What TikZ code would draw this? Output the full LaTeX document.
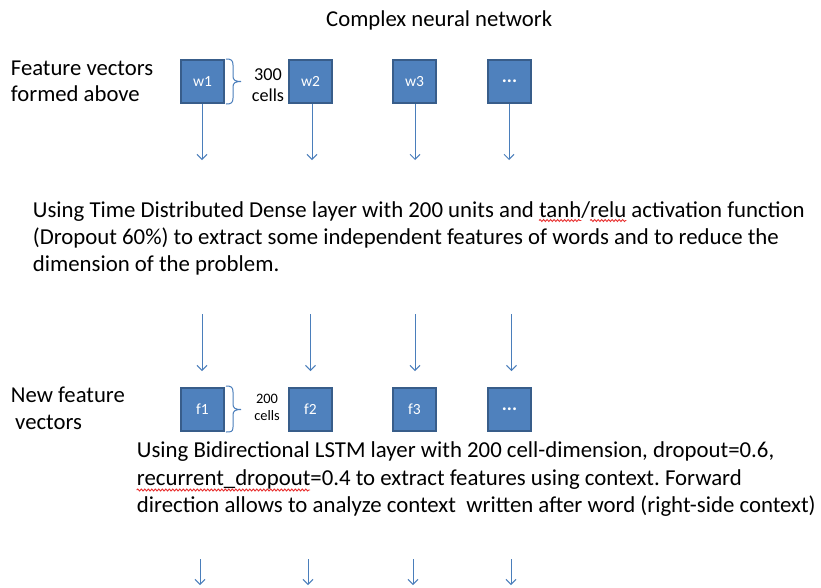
\documentclass[tikz,border=0pt]{standalone}
\usepackage{fontspec}
\setmainfont{Carlito}
\usetikzlibrary{arrows.meta,calc,decorations.pathmorphing}
\definecolor{boxfill}{HTML}{4F81BD}
\definecolor{boxline}{HTML}{385D8A}
\definecolor{arr}{HTML}{4A7EBB}
\definecolor{squig}{HTML}{E83030}
\newlength\sqtanhx
\newlength\sqtanhw
\newlength\sqrelux
\newlength\sqreluw
\newlength\sqrecw
\newcommand\parafont{\fontsize{22.8}{26}\selectfont}
\newcommand\boxdots{{\fontsize{19}{20}\selectfont\bfseries\raisebox{-2pt}{...}}}
\frenchspacing
\begin{document}
\settowidth{\sqtanhx}{\parafont Using Time Distributed Dense layer with 200 units and }%
\settowidth{\sqtanhw}{\parafont tanh}%
\settowidth{\sqrelux}{\parafont Using Time Distributed Dense layer with 200 units and tanh/}%
\settowidth{\sqreluw}{\parafont relu}%
\settowidth{\sqrecw}{\parafont recurrent\_dropout}%
\begin{tikzpicture}[x=1pt,y=-1pt,
  wbox/.style={draw=boxline,fill=boxfill,line width=2pt,minimum width=43pt,minimum height=43pt,inner sep=0pt,text=white,font=\fontsize{15.5}{17}\selectfont},
  arrowline/.style={draw=arr,line width=1pt,-{Straight Barb[length=5pt,width=10pt]}},
  bracestyle/.style={draw=arr,line width=1pt},
  sidelabel/.style={anchor=base west,inner sep=0pt,font=\fontsize{22.7}{26}\selectfont},
  para/.style={anchor=base west,inner sep=0pt,font=\parafont},
  cellsbig/.style={anchor=base,inner sep=0pt,font=\fontsize{18.2}{20}\selectfont},
  cellssmall/.style={anchor=base,inner sep=0pt,font=\fontsize{14.4}{16}\selectfont},
  squiggle/.style={draw=squig,line width=0.9pt,decorate,decoration={snake,amplitude=1pt,segment length=3.5pt}}
]
\useasboundingbox[fill=white] (0,0) rectangle (821,587);

% title
\node[sidelabel] (title) at (326,26.7) {Complex neural network};

% side labels
\node[sidelabel] (fv1) at (10.7,75) {Feature vectors};
\node[sidelabel] (fv2) at (10.7,101.7) {formed above};
\node[sidelabel] (nf1) at (10.7,402.3) {New feature};
\node[sidelabel] (nf2) at (15,429.3) {vectors};

% word boxes
\node[wbox] (w1) at (202.5,81.5) {w1};
\node[wbox] (w2) at (310.5,81.5) {w2};
\node[wbox] (w3) at (414.5,81.5) {w3};
\node[wbox] (w4) at (509.5,81.5) {\boxdots};

% feature boxes
\node[wbox] (f1) at (202.5,409) {f1};
\node[wbox] (f2) at (310.5,409) {f2};
\node[wbox] (f3) at (414.5,409) {f3};
\node[wbox] (f4) at (509.5,409) {\boxdots};

% braces
\draw[bracestyle] (226,59) .. controls (231,59) and (233,60) .. (233,65) -- (233,76)
  .. controls (233,80) and (235,81.5) .. (241,81.5)
  .. controls (235,81.5) and (233,83) .. (233,87) -- (233,98)
  .. controls (233,103) and (231,104) .. (226,104);
\node[cellsbig] (c300) at (268,80.7) {300};
\node[cellsbig] (c300b) at (268,101.7) {cells};

\draw[bracestyle] (226,386) .. controls (231,386) and (233,387) .. (233,392) -- (233,404)
  .. controls (233,408) and (235,409.5) .. (241,409.5)
  .. controls (235,409.5) and (233,411) .. (233,415) -- (233,427)
  .. controls (233,432) and (231,432) .. (226,432);
\node[cellssmall] (c200) at (267,403.3) {200};
\node[cellssmall] (c200b) at (267,420) {cells};

% arrows from word boxes
\coordinate (t1) at (202,160);
\coordinate (t2) at (312,160);
\coordinate (t3) at (415,160);
\coordinate (t4) at (509,160);
\draw[arrowline] (w1.south -| t1) -- (t1);
\draw[arrowline] (w2.south -| t2) -- (t2);
\draw[arrowline] (w3.south -| t3) -- (t3);
\draw[arrowline] (w4.south -| t4) -- (t4);

% paragraph 1
\node[para] (p1a) at (32.7,217) {Using Time Distributed Dense layer with 200 units and tanh/relu activation function};
\node[para] (p1b) at (32.7,244.3) {(Dropout 60\%) to extract some independent features of words and to reduce the};
\node[para] (p1c) at (32.7,271.7) {dimension of the problem.};

% middle arrows
\coordinate (m1s) at (202,314); \coordinate (m1e) at (202,371);
\coordinate (m2s) at (310.5,314); \coordinate (m2e) at (310.5,371);
\coordinate (m3s) at (415,314); \coordinate (m3e) at (415,371);
\coordinate (m4s) at (511.5,314); \coordinate (m4e) at (511.5,371);
\draw[arrowline] (m1s) -- (m1e);
\draw[arrowline] (m2s) -- (m2e);
\draw[arrowline] (m3s) -- (m3e);
\draw[arrowline] (m4s) -- (m4e);

% paragraph 2
\node[para] (p2a) at (136.7,457.7) {Using Bidirectional LSTM layer with 200 cell-dimension, dropout=0.6,};
\node[para] (p2b) at (136.7,485) {recurrent\_dropout=0.4 to extract features using context. Forward};
\node[para] (p2c) at (136.7,512.3) {direction allows to analyze context\ \ written after word (right-side context)};

% spell-check squiggles
\coordinate (sq1) at ($(p1a.base west)+(\sqtanhx,-3.5pt)$);
\coordinate (sq2) at ($(p1a.base west)+(\sqrelux,-3.5pt)$);
\coordinate (sq3) at ($(p2b.base west)+(0pt,-5pt)$);
\draw[squiggle] (sq1) -- ++(\sqtanhw,0pt);
\draw[squiggle] (sq2) -- ++(\sqreluw,0pt);
\draw[squiggle] (sq3) -- ++(\sqrecw,0pt);

% bottom arrows
\coordinate (b1s) at (200,559); \coordinate (b1e) at (200,585);
\coordinate (b2s) at (308,559); \coordinate (b2e) at (308,585);
\coordinate (b3s) at (413,559); \coordinate (b3e) at (413,585);
\coordinate (b4s) at (511,559); \coordinate (b4e) at (511,585);
\draw[arrowline] (b1s) -- (b1e);
\draw[arrowline] (b2s) -- (b2e);
\draw[arrowline] (b3s) -- (b3e);
\draw[arrowline] (b4s) -- (b4e);
\end{tikzpicture}
\end{document}
